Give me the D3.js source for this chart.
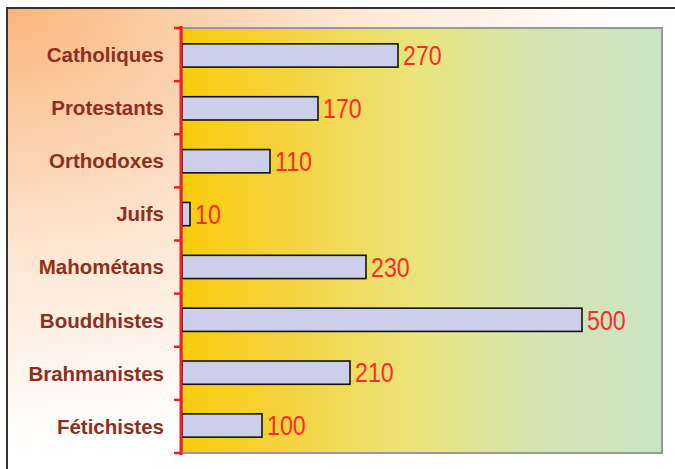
<!DOCTYPE html>
<html>
<head>
<meta charset="utf-8">
<script src="https://cdn.jsdelivr.net/npm/d3@7"></script>
<style>
  html, body { margin: 0; padding: 0; background: #fff; }
  .cat-label { font-family: "Liberation Sans", Arial, sans-serif; font-weight: bold; font-size: 20.5px; fill: #8e2f1d; }
  .val-label { font-family: "Liberation Sans", Arial, sans-serif; font-size: 27px; fill: #ff2b2b; }
</style>
</head>
<body>
<svg id="chart"></svg>
<script>
// religions and their counts (millions)
const categories = ["Catholiques", "Protestants", "Orthodoxes", "Juifs", "Mahométans", "Bouddhistes", "Brahmanistes", "Fétichistes"];
const values = [270, 170, 110, 10, 230, 500, 210, 100];
const xMax = 600;

const W = 675, H = 469;
const pLeft = 182, pRight = 662, pTop = 28, pBottom = 453;

const svg = d3.select("#chart").attr("width", W).attr("height", H);
const defs = svg.append("defs");

// outer background: peach from top-left fading to white
const rg = defs.append("radialGradient").attr("id", "outerBg")
  .attr("cx", 0).attr("cy", 0).attr("r", 0.85).attr("fx", 0).attr("fy", 0);
rg.append("stop").attr("offset", 0).attr("stop-color", "#f9b67c");
rg.append("stop").attr("offset", 0.55).attr("stop-color", "#fde6d2");
rg.append("stop").attr("offset", 1).attr("stop-color", "#ffffff");

// plot area: orange-yellow -> yellow -> pale green
const lg = defs.append("linearGradient").attr("id", "plotBg")
  .attr("x1", 0).attr("y1", 0).attr("x2", 1).attr("y2", 0);
[[0, "#fbcc0c"], [0.18, "#f6d136"], [0.5, "#e9e57e"], [0.74, "#d4e4b2"], [1, "#cce4c6"]]
  .forEach(([o, c]) => lg.append("stop").attr("offset", o).attr("stop-color", c));

// outer frame (cropped at right/bottom)
svg.append("rect")
  .attr("x", 7).attr("y", 8).attr("width", 720).attr("height", 520)
  .attr("fill", "url(#outerBg)").attr("stroke", "#333").attr("stroke-width", 2);

const x = d3.scaleLinear().domain([0, xMax]).range([pLeft, pRight]);
const yBand = d3.scaleBand().domain(categories).range([pTop, pBottom]);
const y = d3.scaleBand().domain(categories).range([pTop, pBottom])
  .paddingInner(0.56).paddingOuter(0.3);

// plot area
svg.append("rect")
  .attr("x", pLeft).attr("y", pTop).attr("width", pRight - pLeft).attr("height", pBottom - pTop)
  .attr("fill", "url(#plotBg)").attr("stroke", "#999").attr("stroke-width", 2);

// bars
svg.append("g").selectAll("rect")
  .data(categories)
  .join("rect")
  .attr("x", x(0))
  .attr("y", d => y(d))
  .attr("width", (d, i) => x(values[i]) - x(0))
  .attr("height", y.bandwidth())
  .attr("fill", "#cccfe9")
  .attr("stroke", "#111").attr("stroke-width", 1.6);

// value labels (narrowed to mimic the condensed face)
svg.append("g").selectAll("text")
  .data(categories)
  .join("text")
  .attr("class", "val-label")
  .attr("transform", (d, i) => `translate(${x(values[i]) + 5},${y(d) + y.bandwidth() / 2}) scale(0.86,1)`)
  .attr("dy", "0.36em")
  .text((d, i) => values[i]);

// red axis with boundary ticks
const axis = svg.append("g");
axis.append("line")
  .attr("x1", pLeft - 1).attr("x2", pLeft - 1).attr("y1", pTop - 2).attr("y2", pBottom + 2)
  .attr("stroke", "#f02020").attr("stroke-width", 3);
const bounds = categories.map(d => yBand(d)).concat([pBottom]);
axis.selectAll(".tick")
  .data(bounds)
  .join("line")
  .attr("x1", pLeft - 8).attr("x2", pLeft).attr("y1", d => d).attr("y2", d => d)
  .attr("stroke", "#f02020").attr("stroke-width", 2.5);

// category labels
svg.append("g").selectAll("text")
  .data(categories)
  .join("text")
  .attr("class", "cat-label")
  .attr("x", 164)
  .attr("y", d => yBand(d) + yBand.bandwidth() / 2)
  .attr("dy", "0.36em")
  .attr("text-anchor", "end")
  .text(d => d);
</script>
</body>
</html>
